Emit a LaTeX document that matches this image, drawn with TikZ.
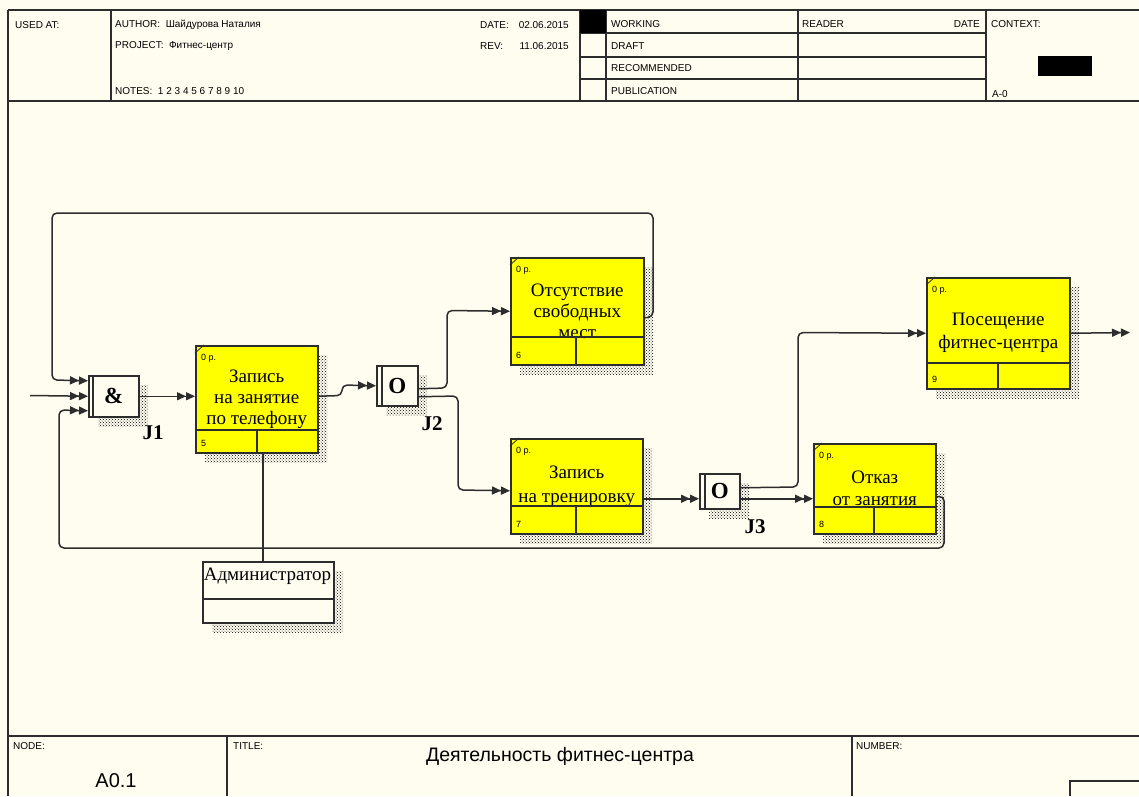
\documentclass[tikz,border=0pt]{standalone}
\usepackage{fontspec}
\setmainfont{Liberation Serif}
\setsansfont{Liberation Sans}
\usetikzlibrary{arrows.meta,positioning,calc,patterns}

\definecolor{paper}{RGB}{255,252,240}
\definecolor{ink}{RGB}{45,45,45}
\definecolor{uowyellow}{RGB}{255,255,0}

\begin{document}
\begin{tikzpicture}[x=1pt,y=-1pt,
    pen/.style={draw=ink,line width=1.5pt},
    flow/.style={pen,rounded corners=5pt,
      -{Triangle[length=9pt,width=8pt]Triangle[length=9pt,width=8pt]}},
    uow/.style={pen,fill=uowyellow,anchor=north west,inner sep=0pt,
      align=center,font=\fontsize{19}{21}\selectfont},
    junct/.style={pen,fill=paper,anchor=north west,inner sep=0pt,
      font=\fontsize{23}{23}\selectfont\bfseries},
    shade/.style={pattern=crosshatch dots,pattern color=black},
    hdr/.style={anchor=west,inner sep=0pt,font=\sffamily\fontsize{10}{10}\selectfont},
    tag/.style={anchor=west,inner sep=0pt,font=\sffamily\fontsize{9}{9}\selectfont},
    jname/.style={inner sep=0pt,font=\fontsize{21}{21}\selectfont\bfseries},
  ]
    \fill[paper] (0,0) rectangle (1139,796);
    \useasboundingbox (0,0) rectangle (1139,796);

    % Frame and header
    \draw[pen,line width=2.5pt] (8,10) -- (8,796);
    \draw[pen] (8,10) -- (1139,10);
    \draw[pen] (8,101) -- (1139,101);
    \foreach \cx in {111,580,606,798,986} {
        \draw[pen] (\cx,10) -- (\cx,101);
    }
    \foreach \ry in {33,57,79} {
        \draw[pen] (580,\ry) -- (986,\ry);
    }
    \fill[black] (580,10) rectangle (606,33);
    \fill[black] (1038,56) rectangle (1092,76);

    \node[hdr] (usedat) at (15,25) {USED AT:};
    \node[hdr] (author) at (115,25) {AUTHOR:\ \ Шайдурова Наталия};
    \node[hdr] (project) at (115,46) {PROJECT:\ \ Фитнес-центр};
    \node[hdr] (notes) at (115,91) {NOTES:\ \ 1 2 3 4 5 6 7 8 9 10};
    \node[hdr] (date) at (480,25) {DATE:};
    \node[hdr,anchor=east] (dateval) at (569,25) {02.06.2015};
    \node[hdr] (rev) at (480,46) {REV:};
    \node[hdr,anchor=east] (revval) at (569,46) {11.06.2015};
    \node[hdr] (working) at (611,24) {WORKING};
    \node[hdr] (draft) at (611,46) {DRAFT};
    \node[hdr] (recomm) at (611,68) {RECOMMENDED};
    \node[hdr] (public) at (611,91) {PUBLICATION};
    \node[hdr] (reader) at (802,24) {READER};
    \node[hdr,anchor=east] (rdate) at (980,24) {DATE};
    \node[hdr] (context) at (991,24) {CONTEXT:};
    \node[hdr] (aminus) at (992,94) {A-0};

    % Footer
    \draw[pen] (8,736) -- (1139,736);
    \draw[pen] (227,736) -- (227,796);
    \draw[pen] (852,736) -- (852,796);
    \draw[pen] (1070,796) -- (1070,781) -- (1139,781);
    \node[hdr] (nodelbl) at (13,746) {NODE:};
    \node[hdr] (titlelbl) at (233,746) {TITLE:};
    \node[hdr] (numlbl) at (856,746) {NUMBER:};
    \node[inner sep=0pt,font=\sffamily\fontsize{20}{20}\selectfont] (nodeid) at (116,781) {A0.1};
    \node[inner sep=0pt,font=\sffamily\fontsize{19.5}{20}\selectfont] (title) at (560,756) {Деятельность фитнес-центра};

    % Units of work
    \foreach \nm/\bx/\by/\bw/\bh/\bd/\bv/\idx/\txt in {
        a5/195/345/122/107/22/257/5/{Запись\\на занятие\\по телефону},
        a6/510/257/133/107/27/576/6/{Отсутствие\\свободных\\мест},
        a7/510/438/132/95/27/576/7/{Запись\\[3pt]на тренировку},
        a8/813/443/122/90/26/874/8/{Отказ\\[1pt]от занятия},
        a9/926/277/143/111/25/998/9/{Посещение\\[2pt]фитнес-центра}} {
        \fill[shade] (\bx+10,\by+10) rectangle ++(\bw,\bh);
        \node[uow,minimum width=\bw pt,minimum height=\bh pt] (\nm) at (\bx,\by) {\txt};
        \draw[pen] (\bx,\by+\bh-\bd) -- ++(\bw,0);
        \draw[pen] (\bv,\by+\bh-\bd) -- (\bv,\by+\bh);
        \draw[ink,line width=0.8pt] (\bx,\by+8) -- (\bx+9,\by);
        \node[tag] at (\bx+6,\by+13) {0 р.};
        \node[tag] at (\bx+6,\by+\bh-9) {\idx};
    }

    % Junctions
    \foreach \nm/\bx/\by/\bw/\bh/\bv/\sym in {
        j1/88/375/50/41/93/{\&},
        j2/376/365/41/40/382/O,
        j3/699/473/40/35/705/O} {
        \fill[shade] (\bx+10,\by+10) rectangle ++(\bw,\bh);
        \node[junct,minimum width=\bw pt,minimum height=\bh pt] (\nm) at (\bx,\by) {\sym};
        \draw[pen] (\bv,\by) -- (\bv,\by+\bh);
    }
    \node[jname] (j1name) at (153,433) {J1};
    \node[jname] (j2name) at (432,424) {J2};
    \node[jname] (j3name) at (755,527) {J3};

    % Resource
    \fill[shade] (212,571) rectangle ++(131,61);
    \node[pen,fill=paper,anchor=north west,inner sep=0pt,
          minimum width=131pt,minimum height=61pt] (adm) at (202,561) {};
    \draw[pen] (202,599) -- (333,599);
    \node[inner sep=0pt,font=\fontsize{19}{20}\selectfont] (admtxt) at (267.5,576) {Администратор};

    % Links
    \coordinate (src) at (30,395.5);
    \coordinate (snk) at (1130,332.5);
    \coordinate (p3) at ([yshift=-7.5pt]j3.west);
    \draw[flow] (src) -- (j1.west);
    \draw[flow] ([yshift=-6.5pt]a6.east) -- (653,317) -- (653,213) -- (52,213)
        -- (52,380) -- ([yshift=15.5pt]j1.west);
    \draw[flow] ([yshift=-8pt]a8.east) -- (944,496) -- (944,548) -- (59,548)
        -- (59,410) -- ([yshift=-14.5pt]j1.west);
    \draw[flow] (j1.east) -- (a5.west |- j1.east);
    \draw[flow] (a5.east |- j1.east) -- (342,395.5) -- (342,385) -- (j2.west);
    \draw[flow] ([yshift=-3pt]j2.east) -- (447,388) -- (447,310.5) -- (a6.west);
    \draw[flow] ([yshift=-11pt]j2.east) -- (458,396) -- (458,490) -- ([yshift=-4.5pt]a7.west);
    \draw[flow] (a7.east |- p3) -- (p3);
    \draw[flow] ([yshift=-7.5pt]j3.east) -- (a8.west |- p3);
    \draw[flow] ([yshift=3.5pt]j3.east) -- (798,487) -- (798,332.5) -- (a9.west);
    \draw[flow] (a9.east) -- (snk);
    \draw[pen] (a5.south -| 263,0) -- (adm.north -| 263,0);
\end{tikzpicture}
\end{document}
